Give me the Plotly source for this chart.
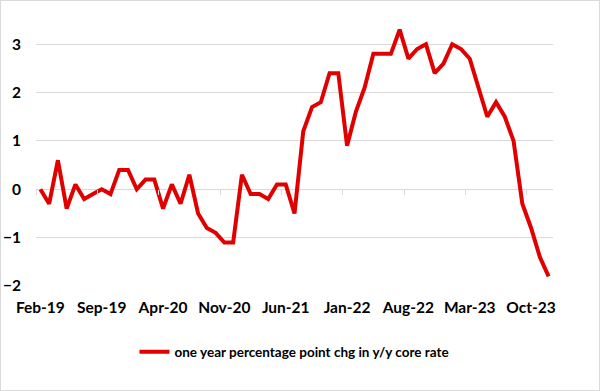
import plotly.graph_objects as go

months = [
    "Feb-19","Mar-19","Apr-19","May-19","Jun-19","Jul-19","Aug-19","Sep-19","Oct-19","Nov-19","Dec-19",
    "Jan-20","Feb-20","Mar-20","Apr-20","May-20","Jun-20","Jul-20","Aug-20","Sep-20","Oct-20","Nov-20","Dec-20",
    "Jan-21","Feb-21","Mar-21","Apr-21","May-21","Jun-21","Jul-21","Aug-21","Sep-21","Oct-21","Nov-21","Dec-21",
    "Jan-22","Feb-22","Mar-22","Apr-22","May-22","Jun-22","Jul-22","Aug-22","Sep-22","Oct-22","Nov-22","Dec-22",
    "Jan-23","Feb-23","Mar-23","Apr-23","May-23","Jun-23","Jul-23","Aug-23","Sep-23","Oct-23","Nov-23","Dec-23",
]
values = [
    0.0, -0.3, 0.6, -0.4, 0.1, -0.2, -0.1, 0.0, -0.1, 0.4, 0.4,
    0.0, 0.2, 0.2, -0.4, 0.1, -0.3, 0.3, -0.5, -0.8, -0.9, -1.1, -1.1,
    0.3, -0.1, -0.1, -0.2, 0.1, 0.1, -0.5, 1.2, 1.7, 1.8, 2.4, 2.4,
    0.9, 1.6, 2.1, 2.8, 2.8, 2.8, 3.3, 2.7, 2.9, 3.0, 2.4, 2.6,
    3.0, 2.9, 2.7, 2.1, 1.5, 1.8, 1.5, 1.0, -0.3, -0.8, -1.4, -1.8,
]
series_name = "one year percentage point chg in y/y core rate"
label_step = 7
y_ticks = [-2, -1, 0, 1, 2, 3]

idx = list(range(len(months)))
label_pos = idx[::label_step]
label_text = months[::label_step]
boundary_ticks = [p - 0.5 for p in label_pos]

FONT = "Lato"
TICK_FS = 15.5
LEG_FS = 13.5
xr = [-0.5, len(months) - 0.5]
yr = [-2, 3.5]

L, R, T, B = 36, 47, 20, 105
PW, PH = 600 - L - R, 391 - T - B

fig = go.Figure()
fig.add_trace(go.Scatter(
    x=idx, y=values, mode="lines", name=series_name,
    line=dict(color="#e00000", width=4),
))
fig.add_trace(go.Scatter(x=[None], y=[None], xaxis="x2", showlegend=False, hoverinfo="skip"))

tf = dict(family=FONT, size=TICK_FS, color="#000000", weight="bold")
lf = dict(family=FONT, size=LEG_FS, color="#000000", weight="bold")
fig.update_layout(
    width=600, height=391,
    margin=dict(l=L, r=R, t=T, b=B, autoexpand=False),
    paper_bgcolor="white", plot_bgcolor="white",
    font=dict(family=FONT, size=LEG_FS, color="#000000"),
    showlegend=True,
    legend=dict(
        orientation="h", x=0.5, xanchor="center", y=-(352 - (T + PH)) / PH, yanchor="middle",
        font=lf, itemwidth=30,
    ),
    xaxis=dict(
        range=xr, tickmode="array", tickvals=label_pos, ticktext=label_text,
        showgrid=False, zeroline=False, showline=False, ticks="",
        ticklabelstandoff=10, automargin=False, tickfont=tf,
    ),
    xaxis2=dict(
        range=xr, overlaying="x", anchor="free", position=2 / 5.5, side="bottom",
        tickmode="array", tickvals=boundary_ticks, showticklabels=False,
        ticks="outside", ticklen=5, tickcolor="#d9d9d9", tickwidth=1,
        showgrid=False, zeroline=False, showline=False, automargin=False,
    ),
    yaxis=dict(
        range=yr, tickmode="array", tickvals=y_ticks,
        showgrid=True, gridcolor="#d9d9d9", gridwidth=1,
        zeroline=True, zerolinecolor="#d9d9d9", zerolinewidth=1,
        showline=False, ticks="", ticklabelstandoff=14, automargin=False,
        tickfont=tf,
    ),
    shapes=[dict(type="rect", xref="paper", yref="paper",
                 x0=-(L - 0.5) / PW, x1=(PW + R - 0.5) / PW,
                 y0=-(B - 0.5) / PH, y1=(PH + T - 0.5) / PH,
                 line=dict(color="#d9d9d9", width=1), fillcolor="rgba(0,0,0,0)", layer="below")],
)

fig.write_html(
    "out.html",
    config={"displayModeBar": False},
    post_script="document.body.style.margin='0';document.body.style.padding='0';",
)
